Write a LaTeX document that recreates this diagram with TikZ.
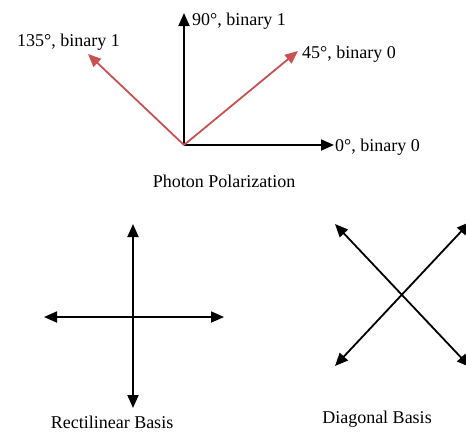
\documentclass[tikz,border=0pt]{standalone}
\usepackage{fontspec}
\setmainfont{Liberation Serif}
\usetikzlibrary{arrows.meta}
\definecolor{polred}{RGB}{200,82,82}
\tikzset{
  tipshape/.tip={Triangle[length=13pt,width=11pt]},
  axis/.style={line width=1.8pt, -tipshape},
  dblaxis/.style={line width=1.8pt, tipshape-tipshape},
  redaxis/.style={axis, draw=polred, fill=polred},
  lbl/.style={font=\fontsize{18}{20}\selectfont, inner sep=0pt},
}
\begin{document}
\begin{tikzpicture}[x=1pt,y=-1pt]
\useasboundingbox[fill=white] (0,0) rectangle (466,432);
% photon polarization
\coordinate (o) at (184,145);
\coordinate (t90) at (184,13);
\coordinate (t0) at (334,145);
\coordinate (t45) at (298,51);
\coordinate (t135) at (88,54);
\draw[axis] (o) -- (t90);
\draw[axis] (o) -- (t0);
\draw[redaxis] (o) -- (t45);
\draw[redaxis] (o) -- (t135);
\node[lbl, anchor=west] (l90) at (192,21) {90°, binary 1};
\node[lbl, anchor=west] (l0) at (335,147) {0°, binary 0};
\node[lbl, anchor=west] (l45) at (302,54) {45°, binary 0};
\node[lbl, anchor=west] (l135) at (17,42) {135°, binary 1};
\node[lbl] (lpp) at (224,181) {Photon Polarization};
% rectilinear basis
\coordinate (rt) at (133,224);
\coordinate (rb) at (133,408);
\coordinate (rl) at (44,317);
\coordinate (rr) at (224,317);
\draw[dblaxis] (rb) -- (rt);
\draw[dblaxis] (rl) -- (rr);
\node[lbl] (lrb) at (112,422) {Rectilinear Basis};
% diagonal basis
\coordinate (dul) at (335,224);
\coordinate (dlr) at (470,367);
\coordinate (dll) at (335,366);
\coordinate (dur) at (470,222);
\draw[dblaxis] (dul) -- (dlr);
\draw[dblaxis] (dll) -- (dur);
\node[lbl] (ldb) at (377,419) {Diagonal Basis};
\end{tikzpicture}
\end{document}
